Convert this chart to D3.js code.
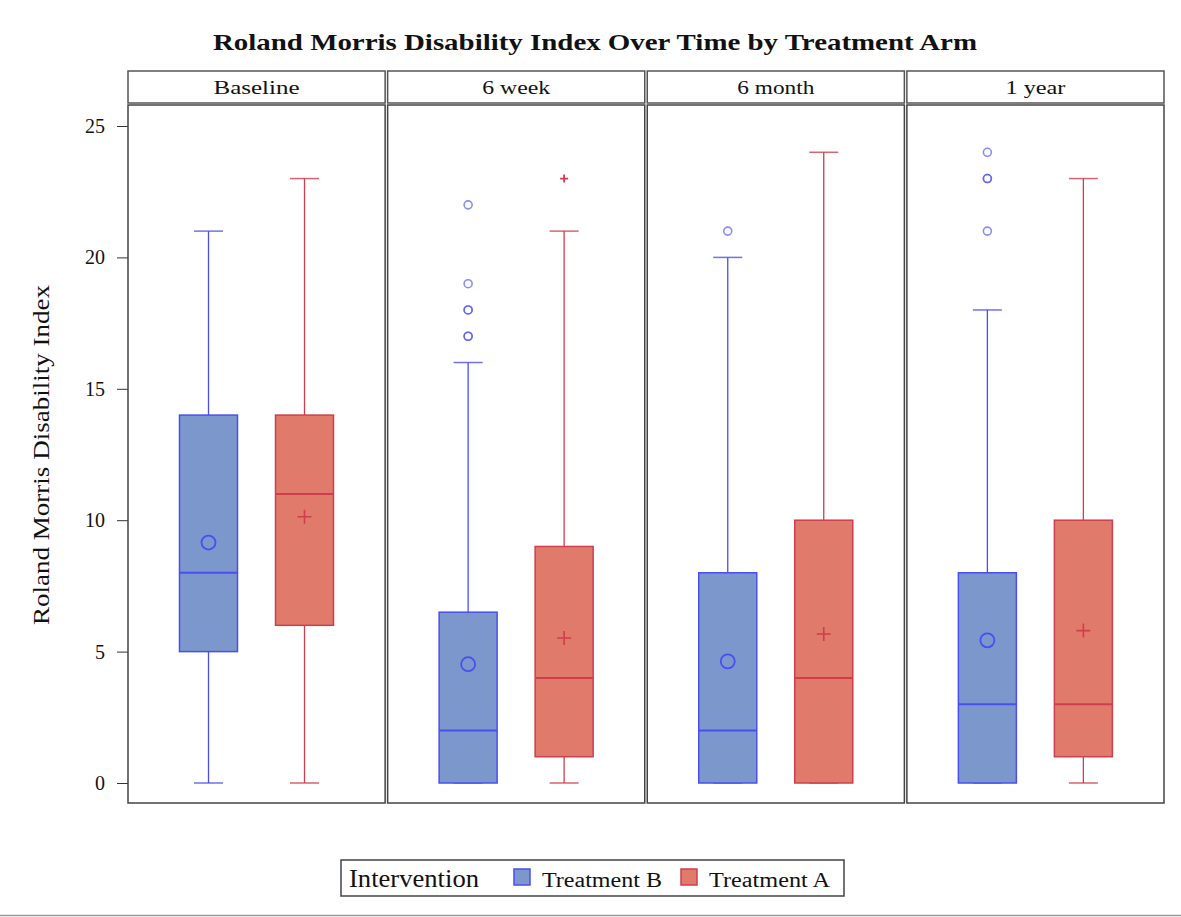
<!DOCTYPE html>
<html>
<head>
<meta charset="utf-8">
<script src="https://cdn.jsdelivr.net/npm/d3@7"></script>
<style>
  body { margin: 0; background: #fff; }
  text { font-family: "Liberation Serif", "DejaVu Serif", serif; fill: #111; }
</style>
</head>
<body>
<div id="chart"></div>
<script>
// time points (panels) and arms
const visits = ["Baseline", "6 week", "6 month", "1 year"];
const arms = ["Treatment B", "Treatment A"];

// box stats per visit, in visit order
const bMin    = [0, 0, 0, 0];
const bQ1     = [5, 0, 0, 0];
const bMedian = [8, 2, 2, 3];
const bQ3     = [14, 6.5, 8, 8];
const bMax    = [21, 16, 20, 18];
const bMean   = [9.15, 4.52, 4.63, 5.43];
const bOut    = [[], [17, 17, 18, 18, 19, 22], [21], [21, 23, 23, 24]];

const aMin    = [0, 0, 0, 0];
const aQ1     = [6, 1, 0, 1];
const aMedian = [11, 4, 4, 3];
const aQ3     = [14, 9, 10, 10];
const aMax    = [23, 21, 24, 23];
const aMean   = [10.13, 5.52, 5.67, 5.8];
const aOut    = [[], [23], [], []];

const yTicks = [0, 5, 10, 15, 20, 25];

const colors = {
  "Treatment B": { fill: "#7b97cc", stroke: "#4a4ef2" },
  "Treatment A": { fill: "#e07b6b", stroke: "#d03d4c" }
};

const W = 1181, H = 917;
const svg = d3.select("#chart").append("svg")
  .attr("width", W).attr("height", H);

// the original font is wider than Liberation Serif, so stretch texts to the widths seen
function fit(sel, len) {
  return sel.attr("textLength", len).attr("lengthAdjust", "spacingAndGlyphs");
}

// layout
const left = 128, right = 1164, gap = 2.5;
const headTop = 71, headBot = 103, plotTop = 105, plotBot = 803;
const panelW = (right - left - gap * (visits.length - 1)) / visits.length;

const y = d3.scaleLinear().domain([0, 25]).range([783, 126]);
const xIn = d3.scalePoint().domain(arms).range([80.5, 176.5]);
const boxW = 58;

// title
fit(svg.append("text")
  .attr("x", 595).attr("y", 50)
  .attr("text-anchor", "middle")
  .attr("font-size", 24).attr("font-weight", "bold")
  .text("Roland Morris Disability Index Over Time by Treatment Arm"), 764);

// y axis
const yAxis = d3.axisLeft(y).tickValues(yTicks).tickSize(11).tickPadding(12);
const ya = svg.append("g").attr("transform", `translate(${left},0)`).call(yAxis);
ya.select(".domain").remove();
ya.selectAll("line").attr("stroke", "#333");
ya.selectAll("text").attr("font-size", 20).attr("font-family", "Liberation Serif").attr("fill", "#111");

fit(svg.append("text")
  .attr("transform", `translate(49,455) rotate(-90)`)
  .attr("text-anchor", "middle")
  .attr("font-size", 23)
  .text("Roland Morris Disability Index"), 340);

const headW = [86, 68, 77, 60];

visits.forEach((v, i) => {
  const px = left + i * (panelW + gap);
  const g = svg.append("g").attr("transform", `translate(${px},0)`);

  // header strip
  g.append("rect").attr("x", 0).attr("y", headTop).attr("width", panelW).attr("height", headBot - headTop)
    .attr("fill", "#fff").attr("stroke", "#555").attr("stroke-width", 1.5);
  fit(g.append("text").attr("x", panelW / 2).attr("y", headTop + 23)
    .attr("text-anchor", "middle").attr("font-size", 19).text(v), headW[i]);

  // plot frame
  g.append("rect").attr("x", 0).attr("y", plotTop).attr("width", panelW).attr("height", plotBot - plotTop)
    .attr("fill", "#fff").attr("stroke", "#444").attr("stroke-width", 1.5);

  const stats = [
    { arm: "Treatment B", min: bMin[i], q1: bQ1[i], med: bMedian[i], q3: bQ3[i], max: bMax[i], mean: bMean[i], out: bOut[i] },
    { arm: "Treatment A", min: aMin[i], q1: aQ1[i], med: aMedian[i], q3: aQ3[i], max: aMax[i], mean: aMean[i], out: aOut[i] }
  ];

  stats.forEach(s => {
    const c = colors[s.arm];
    const cx = xIn(s.arm);
    const bg = g.append("g");

    // whiskers
    bg.append("line").attr("x1", cx).attr("x2", cx).attr("y1", y(s.q3)).attr("y2", y(s.max))
      .attr("stroke", c.stroke).attr("stroke-width", 1.3);
    bg.append("line").attr("x1", cx).attr("x2", cx).attr("y1", y(s.q1)).attr("y2", y(s.min))
      .attr("stroke", c.stroke).attr("stroke-width", 1.3);
    [s.min, s.max].forEach(val => {
      bg.append("line").attr("x1", cx - boxW / 4).attr("x2", cx + boxW / 4)
        .attr("y1", y(val)).attr("y2", y(val))
        .attr("stroke", c.stroke).attr("stroke-width", 1.5).attr("stroke-opacity", 0.8);
    });

    // box
    bg.append("rect").attr("x", cx - boxW / 2).attr("y", y(s.q3))
      .attr("width", boxW).attr("height", y(s.q1) - y(s.q3))
      .attr("fill", c.fill).attr("stroke", c.stroke).attr("stroke-width", 1.5);
    bg.append("line").attr("x1", cx - boxW / 2).attr("x2", cx + boxW / 2)
      .attr("y1", y(s.med)).attr("y2", y(s.med))
      .attr("stroke", c.stroke).attr("stroke-width", 2);

    // mean marker
    if (s.arm === "Treatment B") {
      bg.append("circle").attr("cx", cx).attr("cy", y(s.mean)).attr("r", 7)
        .attr("fill", "none").attr("stroke", c.stroke).attr("stroke-width", 1.8);
    } else {
      bg.append("path").attr("d", `M${cx - 7},${y(s.mean)}H${cx + 7}M${cx},${y(s.mean) - 7}V${y(s.mean) + 7}`)
        .attr("stroke", c.stroke).attr("stroke-width", 1.6);
    }

    // outliers
    s.out.forEach(o => {
      if (s.arm === "Treatment B") {
        bg.append("circle").attr("cx", cx).attr("cy", y(o)).attr("r", 4)
          .attr("fill", "none").attr("stroke", c.stroke).attr("stroke-width", 1.6).attr("stroke-opacity", 0.65);
      } else {
        bg.append("path").attr("d", `M${cx - 4},${y(o)}H${cx + 4}M${cx},${y(o) - 4}V${y(o) + 4}`)
          .attr("stroke", c.stroke).attr("stroke-width", 1.8);
      }
    });
  });
});

// legend
const lg = svg.append("g");
lg.append("rect").attr("x", 341).attr("y", 860).attr("width", 503).attr("height", 36)
  .attr("fill", "#fff").attr("stroke", "#444").attr("stroke-width", 1.5);
fit(lg.append("text").attr("x", 349).attr("y", 887).attr("font-size", 25).text("Intervention"), 130);
const legX = [514, 681];
const legW = [120, 121];
arms.forEach((a, k) => {
  lg.append("rect").attr("x", legX[k]).attr("y", 869).attr("width", 16).attr("height", 16)
    .attr("fill", colors[a].fill).attr("stroke", colors[a].stroke).attr("stroke-width", 1.5);
  fit(lg.append("text").attr("x", legX[k] + 28).attr("y", 887).attr("font-size", 20).text(a), legW[k]);
});

// bottom rule
svg.append("line").attr("x1", 0).attr("x2", W).attr("y1", 915.5).attr("y2", 915.5)
  .attr("stroke", "#999").attr("stroke-width", 1.5);
</script>
</body>
</html>
